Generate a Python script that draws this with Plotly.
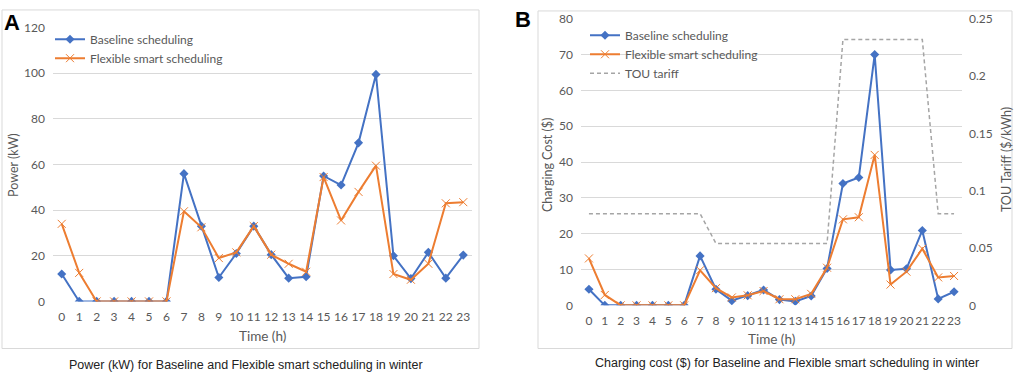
import plotly.graph_objects as go

hours = list(range(24))
hour_labels = [str(h) for h in hours]

# Panel A: power (kW)
power_baseline = [12, 0, 0, 0, 0, 0, 0, 56, 33, 10.5, 21, 33, 20.5, 10.2, 10.8, 55,
                  51, 69.5, 99.5, 20, 10, 21.5, 10.2, 20.3]
power_flexible = [34, 12.5, 0, 0, 0, 0, 0, 39.5, 32.5, 19, 21.5, 33, 20.5, 16.5, 13,
                  54.5, 35.5, 48, 59.5, 12, 9.5, 16.5, 43, 43.5]

# Panel B: charging cost ($) and TOU tariff ($/kWh)
cost_baseline = [4.5, 0, 0, 0, 0, 0, 0, 13.8, 4.5, 1.3, 2.7, 4.3, 1.6, 1.1, 2.6, 10.3,
                 34, 35.7, 70, 9.9, 10.2, 20.9, 1.8, 3.8]
cost_flexible = [13.1, 2.9, 0, 0, 0, 0, 0, 9.8, 4.8, 2.2, 2.8, 4.0, 1.7, 1.7, 3.2, 10.5,
                 24.0, 24.6, 42, 5.8, 9.4, 15.8, 7.8, 8.2]
tou_tariff = [0.08] * 8 + [0.054] * 8 + [0.232] * 6 + [0.08] * 2

BLUE = "#4472C4"
ORANGE = "#ED7D31"
GRAY = "#A5A5A5"
GRID = "#D9D9D9"
TXT = "#595959"
FONT = "Lato"

W, H = 1017, 375      # reference picture size (layout coordinates below)
FIG_H = 383           # figure height that photographs to the reference's vertical scale

def px_x(x):
    return x / W

def px_y(y):
    return 1 - y / H

fig = go.Figure()

fig.add_trace(go.Scatter(x=hours, y=power_baseline, name="Baseline scheduling",
                         mode="lines+markers", line=dict(color=BLUE, width=2),
                         marker=dict(symbol="diamond", size=7, color=BLUE),
                         xaxis="x", yaxis="y", legend="legend"))
fig.add_trace(go.Scatter(x=hours, y=power_flexible, name="Flexible smart scheduling",
                         mode="lines+markers", line=dict(color=ORANGE, width=2),
                         marker=dict(symbol="x-thin-open", size=8, color=ORANGE,
                                     line=dict(color=ORANGE, width=1)),
                         xaxis="x", yaxis="y", legend="legend"))
fig.add_trace(go.Scatter(x=hours, y=cost_baseline, name="Baseline scheduling",
                         mode="lines+markers", line=dict(color=BLUE, width=2),
                         marker=dict(symbol="diamond", size=7, color=BLUE),
                         xaxis="x2", yaxis="y2", legend="legend2"))
fig.add_trace(go.Scatter(x=hours, y=cost_flexible, name="Flexible smart scheduling",
                         mode="lines+markers", line=dict(color=ORANGE, width=2),
                         marker=dict(symbol="x-thin-open", size=8, color=ORANGE,
                                     line=dict(color=ORANGE, width=1)),
                         xaxis="x2", yaxis="y2", legend="legend2"))
fig.add_trace(go.Scatter(x=hours, y=tou_tariff, name="TOU tariff",
                         mode="lines", line=dict(color=GRAY, width=1.5, dash="4px,3px"),
                         xaxis="x2", yaxis="y3", legend="legend2"))

tickfont = dict(family=FONT, size=12, color=TXT)

xcommon = dict(range=[-0.5, 23.5], tickmode="array", tickvals=hours, ticktext=hour_labels,
               showgrid=False, zeroline=False, showline=False, ticks="", tickangle=0,
               tickfont=tickfont, ticklabelstandoff=7, fixedrange=True)

fig.update_layout(
    width=W, height=FIG_H,
    margin=dict(l=0, r=0, t=0, b=0),
    paper_bgcolor="white", plot_bgcolor="white",
    font=dict(family=FONT, color=TXT),
    xaxis=dict(domain=[px_x(53), px_x(472)], anchor="y", **xcommon),
    yaxis=dict(domain=[px_y(299), px_y(20)], anchor="x", range=[0, 120], dtick=20,
               showgrid=True, gridcolor=GRID, gridwidth=1, zeroline=False,
               tickfont=tickfont, ticklabelstandoff=7, showline=False),
    xaxis2=dict(domain=[px_x(581), px_x(962)], anchor="y2", **xcommon),
    yaxis2=dict(domain=[px_y(303), px_y(11)], anchor="x2", range=[0, 80], dtick=10,
                showgrid=True, gridcolor=GRID, gridwidth=1, zeroline=False,
                tickfont=tickfont, ticklabelstandoff=7, showline=False),
    yaxis3=dict(overlaying="y2", anchor="x2", side="right", range=[0, 0.25], dtick=0.05,
                showgrid=False, zeroline=False, tickfont=tickfont, ticklabelstandoff=6,
                showline=False),
    legend=dict(x=px_x(50), y=px_y(17), xanchor="left", yanchor="top",
                bgcolor="rgba(0,0,0,0)", font=dict(family=FONT, size=12, color=TXT),
                tracegroupgap=0, itemwidth=30),
    legend2=dict(x=px_x(585), y=px_y(13), xanchor="left", yanchor="top",
                 bgcolor="rgba(0,0,0,0)", font=dict(family=FONT, size=12, color=TXT),
                 tracegroupgap=0, itemwidth=30),
    showlegend=True,
)

fig.add_shape(type="rect", xref="paper", yref="paper",
              x0=px_x(2), x1=px_x(479), y0=px_y(347), y1=px_y(2),
              line=dict(color=GRID, width=1), layer="below")
fig.add_shape(type="rect", xref="paper", yref="paper",
              x0=px_x(538), x1=px_x(1012), y0=px_y(347), y1=px_y(3),
              line=dict(color=GRID, width=1), layer="below")

ann = []
ann.append(dict(text="<b>A</b>", x=px_x(2), y=px_y(15), xanchor="left", yanchor="middle",
                font=dict(family="Liberation Sans", size=22, color="black")))
ann.append(dict(text="<b>B</b>", x=px_x(513), y=px_y(12), xanchor="left", yanchor="middle",
                font=dict(family="Liberation Sans", size=22, color="black")))
ann.append(dict(text="Power (kW)", x=px_x(13), y=px_y(160), textangle=-90,
                xanchor="center", yanchor="middle",
                font=dict(family=FONT, size=12.5, color=TXT)))
ann.append(dict(text="Time (h)", x=px_x(262), y=px_y(334), xanchor="center", yanchor="middle",
                font=dict(family=FONT, size=13.5, color=TXT)))
ann.append(dict(text="Charging Cost ($)", x=px_x(547), y=px_y(160), textangle=-90,
                xanchor="center", yanchor="middle",
                font=dict(family=FONT, size=12.5, color=TXT)))
ann.append(dict(text="TOU Tariff ($/kWh)", x=px_x(1006), y=px_y(155), textangle=-90,
                xanchor="center", yanchor="middle",
                font=dict(family=FONT, size=12.5, color=TXT)))
ann.append(dict(text="Time (h)", x=px_x(771), y=px_y(337), xanchor="center", yanchor="middle",
                font=dict(family=FONT, size=13.5, color=TXT)))
ann.append(dict(text="Power (kW) for Baseline and Flexible smart scheduling in winter",
                x=px_x(246), y=px_y(364), xanchor="center", yanchor="middle",
                font=dict(family="Liberation Sans", size=12.5, color="#222222")))
ann.append(dict(text="Charging cost ($) for Baseline and Flexible smart scheduling in winter",
                x=px_x(787), y=px_y(362), xanchor="center", yanchor="middle",
                font=dict(family="Liberation Sans", size=12.5, color="#222222")))

for a in ann:
    a.update(xref="paper", yref="paper", showarrow=False)
fig.update_layout(annotations=ann)

fig.write_html("out.html",
               config={"displayModeBar": False},
               post_script=("document.body.style.margin='0px';"
                            "document.body.style.overflow='hidden';"))
